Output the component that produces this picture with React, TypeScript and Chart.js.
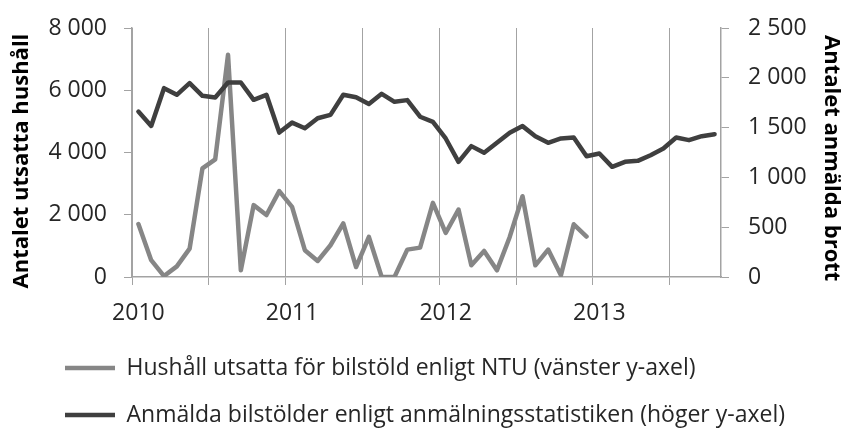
import React, { useEffect, useRef } from "react";
import { Chart, registerables } from "chart.js";

Chart.register(...registerables);

// Categories: months Jan 2010 – Oct 2013
const years = ["2010", "2011", "2012", "2013"];
const monthsPerYear = [12, 12, 12, 10];
const months: string[] = [];
years.forEach((y, yi) => {
  for (let m = 1; m <= monthsPerYear[yi]; m++) months.push(`${y}-${String(m).padStart(2, "0")}`);
});

// NTU households exposed to car theft (left axis), Jan 2010 – Dec 2012
const ntuHouseholds = [
  1700, 540, 30, 340, 910, 3490, 3780, 7140, 215, 2310, 1990, 2760,
  2255, 860, 515, 1020, 1720, 320, 1290, 0, 0, 880, 944, 2380,
  1415, 2166, 375, 836, 214, 1287, 2595, 375, 880, 54, 1694, 1300,
];

// Reported car thefts (right axis), Jan 2010 – Oct 2013
const reportedThefts = [
  1661, 1517, 1896, 1829, 1946, 1819, 1802, 1953, 1953, 1779, 1829, 1450,
  1550, 1493, 1594, 1628, 1829, 1805, 1738, 1839, 1759, 1776, 1609, 1558,
  1391, 1156, 1314, 1247, 1347, 1448, 1515, 1414, 1347, 1391, 1401, 1213,
  1240, 1106, 1156, 1166, 1223, 1290, 1401, 1374, 1414, 1434,
];

const leftLabel = "Antalet utsatta hushåll";
const rightLabel = "Antalet anmälda brott";
const seriesLabels = [
  "Hushåll utsatta för bilstöld enligt NTU (vänster y-axel)",
  "Anmälda bilstölder enligt anmälningsstatistiken (höger y-axel)",
];

const FONT = "'Open Sans', 'Liberation Sans', sans-serif";
const TEXT = "#262626";
const GRID = "#a3a3a3";

const fmt = (v: number) => String(v).replace(/\B(?=(\d{3})+(?!\d))/g, " ");

export default function App() {
  const ref = useRef<HTMLCanvasElement | null>(null);

  useEffect(() => {
    if (!ref.current) return;
    const placeLegend = {
      id: "placeLegend",
      afterLayout(chart: any) {
        const lg = chart.legend;
        if (lg) {
          const h = lg.height;
          lg.left = 41;
          lg.top = 332.5;
          lg.bottom = lg.top + h;
        }
      },
    };
    const chart = new Chart(ref.current, {
      type: "line",
      data: {
        labels: months,
        datasets: [
          {
            label: seriesLabels[0],
            data: ntuHouseholds,
            yAxisID: "y",
            borderColor: "#868686",
            backgroundColor: "#868686",
            borderWidth: 4.5,
            pointRadius: 0,
            tension: 0,
            borderJoinStyle: "round",
            borderCapStyle: "round",
            order: 1,
          },
          {
            label: seriesLabels[1],
            data: reportedThefts,
            yAxisID: "y1",
            borderColor: "#3f3f3f",
            backgroundColor: "#3f3f3f",
            borderWidth: 4.5,
            pointRadius: 0,
            tension: 0,
            borderJoinStyle: "round",
            borderCapStyle: "round",
            order: 0,
          },
        ],
      },
      options: {
        animation: false,
        responsive: false,
        maintainAspectRatio: false,
        layout: { padding: { top: 28, left: 0, right: 0, bottom: 0 } },
        plugins: {
          tooltip: { enabled: false },
          legend: {
            position: "bottom",
            align: "start",
            labels: {
              usePointStyle: true,
              pointStyle: "line",
              pointStyleWidth: 50,
              padding: 24,
              color: TEXT,
              font: { family: FONT, size: 23 },
              sort: (a: any, b: any) => a.datasetIndex - b.datasetIndex,
            },
          },
        },
        scales: {
          x: {
            type: "category",
            offset: true,
            grid: {
              offset: true,
              drawOnChartArea: true,
              tickLength: 8,
              lineWidth: 1,
              color: (ctx: any) => (ctx.index !== undefined && ctx.index % 6 === 0 ? GRID : "rgba(0,0,0,0)"),
            },
            border: { color: GRID, width: 1.5 },
            ticks: {
              autoSkip: false,
              maxRotation: 0,
              minRotation: 0,
              padding: 15,
              color: TEXT,
              font: { family: FONT, size: 23 },
              callback: (_v: any, i: number) => (i % 12 === 0 ? months[i].slice(0, 4) : ""),
            },
            afterFit: (s: any) => {
              s.height = 48;
            },
          },
          y: {
            position: "left",
            min: 0,
            max: 8000,
            grid: { drawOnChartArea: false, tickLength: 8, color: GRID },
            border: { color: GRID, width: 1.5 },
            ticks: {
              stepSize: 2000,
              padding: 17,
              color: TEXT,
              font: { family: FONT, size: 23 },
              callback: (v: any) => fmt(Number(v)),
            },
            title: {
              display: true,
              text: leftLabel + "\u00a0\u00a0\u00a0",
              color: "#000",
              font: { family: FONT, size: 22, weight: "bold" },
              padding: { top: 9, bottom: 0 },
            },
            afterFit: (s: any) => {
              s.width = 132;
              s.paddingTop = 0;
              s.paddingBottom = 0;
            },
          },
          y1: {
            position: "right",
            min: 0,
            max: 2500,
            grid: { drawOnChartArea: false, tickLength: 8, color: GRID },
            border: { color: GRID, width: 1.5 },
            ticks: {
              stepSize: 500,
              padding: 19,
              color: TEXT,
              font: { family: FONT, size: 23 },
              callback: (v: any) => fmt(Number(v)),
            },
            title: {
              display: true,
              text: "\u00a0\u00a0" + rightLabel,
              color: "#000",
              font: { family: FONT, size: 22, weight: "bold" },
              padding: { top: 0, bottom: 2 },
            },
            afterFit: (s: any) => {
              s.width = 123;
              s.paddingTop = 0;
              s.paddingBottom = 0;
            },
          },
        },
      },
      plugins: [placeLegend],
    } as any);
    return () => chart.destroy();
  }, []);

  return (
    <div style={{ position: "absolute", left: 0, top: 0, width: 844, height: 429, background: "#fff" }}>
      <canvas ref={ref} width={844} height={429} style={{ display: "block", width: 844, height: 429 }} />
    </div>
  );
}
